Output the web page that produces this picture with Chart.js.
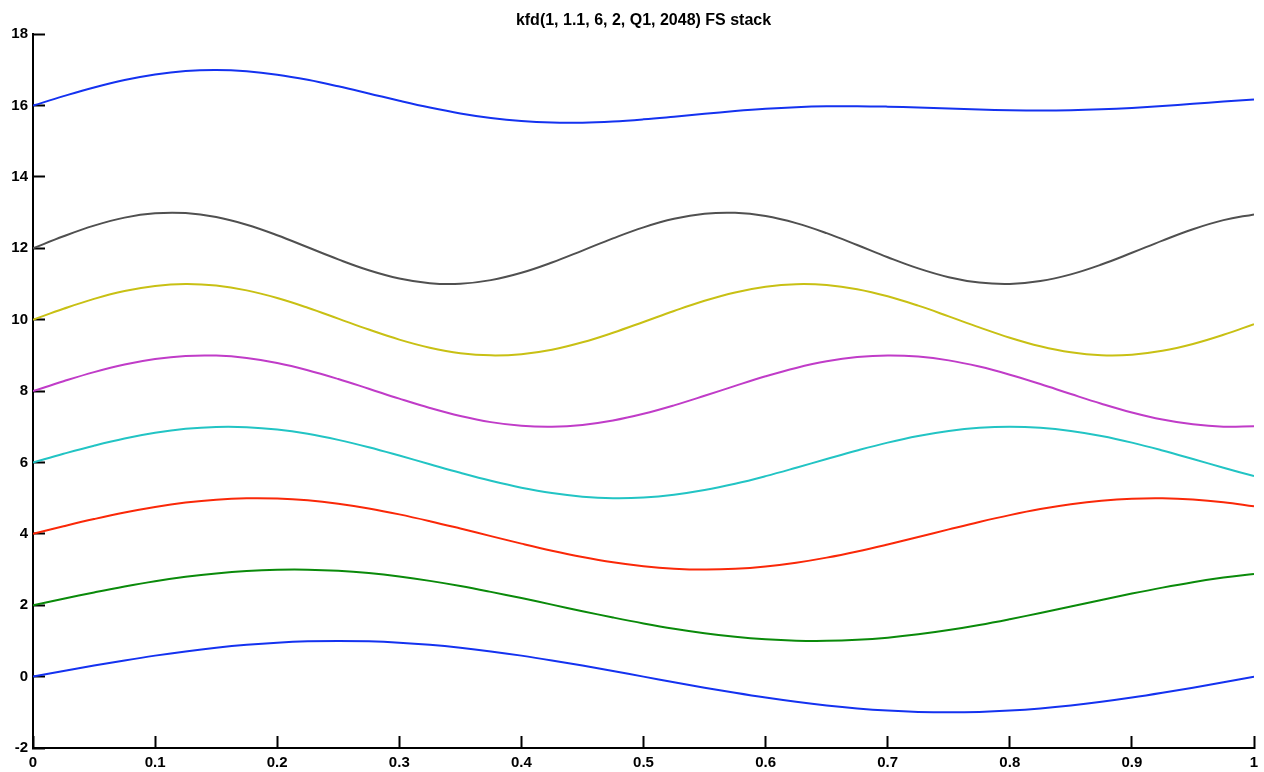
<!DOCTYPE html>
<html>
<head>
<meta charset="utf-8">
<script src="https://cdn.jsdelivr.net/npm/chart.js@4.4.1/dist/chart.umd.min.js"></script>
<style>
  html, body { margin: 0; padding: 0; background: #ffffff; }
  canvas { display: block; }
</style>
</head>
<body>
<canvas id="chart" width="1264" height="772"></canvas>
<script>
// Plot title
const titleText = 'kfd(1, 1.1, 6, 2, Q1, 2048) FS stack';

// Sample positions along the x axis
const xs = [0, 0.025, 0.05, 0.075, 0.1, 0.125, 0.15, 0.175, 0.2, 0.225, 0.25, 0.275, 0.3, 0.325, 0.35,
  0.375, 0.4, 0.425, 0.45, 0.475, 0.5, 0.525, 0.55, 0.575, 0.6, 0.625, 0.65, 0.675, 0.7, 0.725, 0.75,
  0.775, 0.8, 0.825, 0.85, 0.875, 0.9, 0.925, 0.95, 0.975, 1];

// Axis ticks and their labels
const xTicks = [0, 0.1, 0.2, 0.3, 0.4, 0.5, 0.6, 0.7, 0.8, 0.9, 1];
const xTickLabels = ['0', '0.1', '0.2', '0.3', '0.4', '0.5', '0.6', '0.7', '0.8', '0.9', '1'];
const yTicks = [-2, 0, 2, 4, 6, 8, 10, 12, 14, 16, 18];
const yTickLabels = ['-2', '0', '2', '4', '6', '8', '10', '12', '14', '16', '18'];

// Stacked traces (each one shifted up by its own offset)
const comp1 = [0, 0.156, 0.309, 0.454, 0.588, 0.707, 0.809, 0.891, 0.951, 0.988, 1, 0.988, 0.951, 0.891, 0.809,
  0.707, 0.588, 0.454, 0.309, 0.156, 0, -0.156, -0.309, -0.454, -0.588, -0.707, -0.809, -0.891, -0.951, -0.988, -1,
  -0.988, -0.951, -0.891, -0.809, -0.707, -0.588, -0.454, -0.309, -0.156, 0];
const comp2 = [2, 2.183, 2.359, 2.524, 2.671, 2.795, 2.892, 2.960, 2.995, 2.997, 2.965, 2.900, 2.805, 2.683, 2.539,
  2.375, 2.200, 2.017, 1.834, 1.657, 1.491, 1.342, 1.216, 1.115, 1.045, 1.007, 1.002, 1.031, 1.092, 1.184, 1.304,
  1.447, 1.609, 1.783, 1.965, 2.149, 2.327, 2.494, 2.645, 2.774, 2.876];
const comp3 = [4, 4.212, 4.414, 4.598, 4.754, 4.876, 4.959, 4.997, 4.990, 4.939, 4.844, 4.711, 4.546, 4.356, 4.150,
  3.937, 3.727, 3.529, 3.353, 3.206, 3.095, 3.025, 3.000, 3.020, 3.085, 3.191, 3.334, 3.507, 3.703, 3.912, 4.125,
  4.333, 4.525, 4.694, 4.830, 4.930, 4.987, 4.999, 4.965, 4.888, 4.771];
const comp4 = [6, 6.243, 6.471, 6.672, 6.831, 6.942, 6.995, 6.989, 6.924, 6.803, 6.634, 6.428, 6.195, 5.951, 5.710,
  5.486, 5.293, 5.142, 5.043, 5.001, 5.019, 5.096, 5.227, 5.404, 5.617, 5.853, 6.098, 6.337, 6.556, 6.741, 6.882,
  6.970, 7.000, 6.970, 6.882, 6.741, 6.556, 6.337, 6.098, 5.853, 5.617];
const comp5 = [8, 8.276, 8.531, 8.744, 8.899, 8.985, 8.994, 8.926, 8.786, 8.585, 8.339, 8.066, 7.788, 7.527, 7.302,
  7.131, 7.028, 7.001, 7.051, 7.175, 7.363, 7.600, 7.868, 8.147, 8.414, 8.649, 8.834, 8.954, 9.000, 8.968, 8.861,
  8.687, 8.460, 8.197, 7.918, 7.647, 7.402, 7.204, 7.068, 7.004, 7.018];
const comp6 = [10, 10.306, 10.583, 10.803, 10.947, 11.000, 10.957, 10.822, 10.608, 10.336, 10.031, 9.724, 9.443, 9.216, 9.063,
  9.001, 9.035, 9.161, 9.367, 9.635, 9.937, 10.246, 10.531, 10.765, 10.925, 10.997, 10.973, 10.856, 10.657, 10.394, 10.094,
  9.785, 9.496, 9.256, 9.087, 9.006, 9.020, 9.128, 9.320, 9.577, 9.875];
const comp7 = [12, 12.339, 12.637, 12.861, 12.982, 12.988, 12.876, 12.661, 12.368, 12.031, 11.691, 11.387, 11.156, 11.024, 11.008,
  11.109, 11.315, 11.603, 11.937, 12.279, 12.588, 12.827, 12.969, 12.996, 12.905, 12.707, 12.426, 12.094, 11.751, 11.438, 11.191,
  11.040, 11.002, 11.082, 11.271, 11.546, 11.875, 12.218, 12.536, 12.790, 12.951];
const fsStack = [16, 16.264, 16.509, 16.717, 16.874, 16.970, 16.999, 16.962, 16.866, 16.721, 16.540, 16.340, 16.136, 15.946, 15.781,
  15.653, 15.566, 15.523, 15.521, 15.555, 15.614, 15.689, 15.769, 15.845, 15.908, 15.953, 15.978, 15.983, 15.970, 15.946, 15.916,
  15.888, 15.868, 15.860, 15.868, 15.894, 15.935, 15.989, 16.050, 16.112, 16.171];

const traces = [comp1, comp2, comp3, comp4, comp5, comp6, comp7, fsStack];
const traceColors = ['#1432f0', '#0a8a0a', '#fa2808', '#22c4c4', '#c03cc8', '#c8c014', '#505050', '#1432f0'];

const tickFont = { family: "'Liberation Sans', Arial, sans-serif", size: 15, weight: 'bold' };

const datasets = traces.map((arr, k) => ({
  data: xs.map((x, i) => ({ x: x, y: arr[i] })),
  borderColor: traceColors[k],
  borderWidth: 2,
  pointRadius: 0,
  fill: false,
  tension: 0.4
}));

// Axis boxes keep a fixed size; label overhang does not shrink the plot area
function fixXAxis(scale) {
  scale.height = 24;
  scale.paddingLeft = 0;
  scale.paddingRight = 0;
}
function fixYAxis(scale) {
  scale.width = 33;
  scale.paddingTop = 0;
  scale.paddingBottom = 0;
}

new Chart(document.getElementById('chart'), {
  type: 'line',
  data: { datasets: datasets },
  options: {
    responsive: false,
    animation: false,
    devicePixelRatio: 1,
    layout: { padding: { left: 0, right: 10, top: 0, bottom: 0 } },
    plugins: {
      legend: { display: false },
      tooltip: { enabled: false },
      title: {
        display: true,
        fullSize: false,
        text: titleText,
        color: '#000000',
        font: { family: "'Liberation Sans', Arial, sans-serif", size: 16, weight: 'bold' },
        padding: { top: 11, bottom: 4 }
      }
    },
    scales: {
      x: {
        type: 'linear',
        position: 'bottom',
        min: 0,
        max: 1,
        afterBuildTicks: (scale) => { scale.ticks = xTicks.map(v => ({ value: v })); },
        afterFit: fixXAxis,
        ticks: {
          color: '#000000',
          font: tickFont,
          padding: 18,
          maxRotation: 0,
          autoSkip: false,
          callback: (value, index) => xTickLabels[index]
        },
        grid: {
          drawOnChartArea: false,
          drawTicks: true,
          tickLength: -12,
          tickWidth: 2,
          tickColor: '#000000'
        },
        border: { display: true, color: '#000000', width: 2 }
      },
      y: {
        type: 'linear',
        position: 'left',
        min: -2,
        max: 18,
        afterBuildTicks: (scale) => { scale.ticks = yTicks.map(v => ({ value: v })); },
        afterFit: fixYAxis,
        ticks: {
          color: '#000000',
          font: tickFont,
          padding: 17,
          autoSkip: false,
          callback: (value, index) => yTickLabels[index]
        },
        grid: {
          drawOnChartArea: false,
          drawTicks: true,
          tickLength: -12,
          tickWidth: 2,
          tickColor: '#000000'
        },
        border: { display: true, color: '#000000', width: 2 }
      }
    }
  }
});
</script>
</body>
</html>
